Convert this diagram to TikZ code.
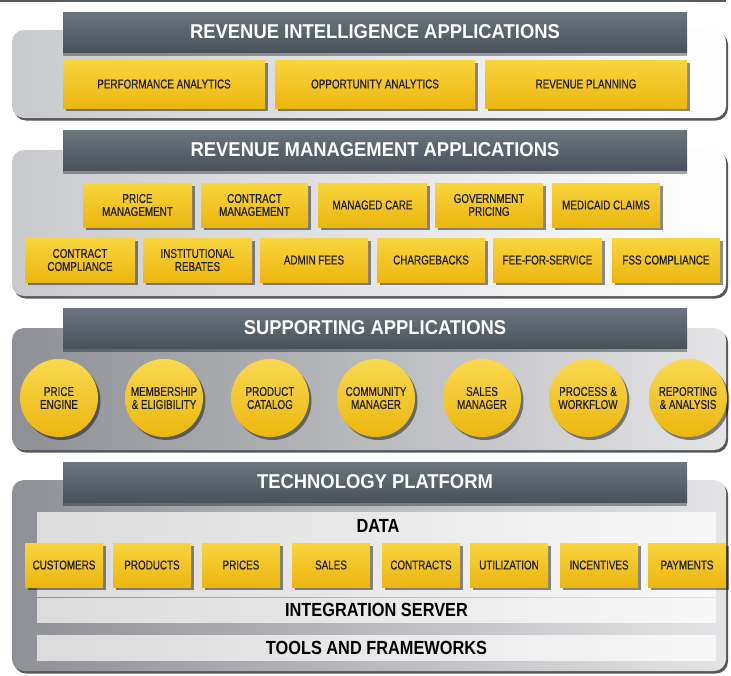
\documentclass[tikz,border=0pt]{standalone}
\usepackage{fontspec}
\usetikzlibrary{shadows}
\newfontfamily\cond[FakeStretch=0.77, FakeBold=0.35]{Liberation Sans}
\newfontfamily\condb[FakeStretch=0.86]{Liberation Sans}
\newfontfamily\condh[FakeStretch=0.92]{Liberation Sans}
\definecolor{yTop}{HTML}{F9D53E}
\definecolor{yBot}{HTML}{ECB60E}
\definecolor{hTop}{HTML}{6C747E}
\definecolor{hBot}{HTML}{49515B}
\definecolor{pLightL}{HTML}{C9CACE}
\definecolor{pDarkL}{HTML}{8E9095}
\definecolor{pDarkR}{HTML}{E4E4E6}
\definecolor{edge}{HTML}{55575B}
\definecolor{txt}{HTML}{1E1E1E}
\tikzset{
  ybox/.style={draw=none, top color=yTop, bottom color=yBot, inner sep=0pt,
    align=center, text=txt, font=\cond\fontsize{12.8}{13}\selectfont,
    drop shadow={shadow xshift=2.5pt, shadow yshift=-3pt, opacity=0.45, fill=black}},
  ycirc/.style={circle, draw=none, top color=yTop!90!white, bottom color=yBot, inner sep=0pt,
    minimum size=78pt, align=center, text=txt, font=\cond\fontsize{12.8}{13}\selectfont,
    drop shadow={shadow xshift=2.5pt, shadow yshift=-3pt, opacity=0.45, fill=black}},
  hdr/.style={draw=none, top color=hTop, bottom color=hBot, inner sep=0pt,
    text=white, font=\condh\bfseries\fontsize{20}{22}\selectfont,
    drop shadow={shadow xshift=0pt, shadow yshift=-4pt, opacity=0.35, fill=black}},
  lightpanel/.style={rounded corners=12pt, left color=pLightL, right color=white,
    draw=none, drop shadow={shadow xshift=2pt, shadow yshift=-2.5pt, opacity=1, fill=edge}},
  darkpanel/.style={rounded corners=12pt, left color=pDarkL, right color=pDarkR,
    draw=none, drop shadow={shadow xshift=2pt, shadow yshift=-2.5pt, opacity=1, fill=edge}},
  strip/.style={draw=none, left color=black!14, right color=black!3, inner sep=0pt,
    text=black, font=\condb\bfseries\fontsize{19}{21}\selectfont},
}
% \bx{style}{name}{x1}{y1}{x2}{y2}{text}
\newcommand\bx[7]{%
  \pgfmathsetmacro\bxcx{(#3+#5)/2}\pgfmathsetmacro\bxcy{(#4+#6)/2}%
  \pgfmathsetmacro\bxw{#5-#3}\pgfmathsetmacro\bxh{#6-#4}%
  \node[#1, minimum width=\bxw pt, minimum height=\bxh pt] (#2) at (\bxcx,\bxcy) {#7};}
\newcommand\yb[6]{\bx{ybox}{#1}{#2}{#3}{#4}{#5}{#6}}
\begin{document}
\begin{tikzpicture}[x=1pt,y=-1pt]
\useasboundingbox (0,0) rectangle (731,675);
\fill[white] (0,0) rectangle (731,675);
\draw[edge, line width=2pt] (0,1) -- (726,1);

% ---------- Band 1
\path[lightpanel] (12,30) rectangle (726,118);
\bx{hdr}{h1}{63}{12}{687}{52}{REVENUE INTELLIGENCE APPLICATIONS}
\yb{pa}{63}{60}{265}{108}{PERFORMANCE ANALYTICS}
\yb{oa}{275}{60}{475}{108}{OPPORTUNITY ANALYTICS}
\yb{rp}{485}{60}{687}{108}{REVENUE PLANNING}

% ---------- Band 2
\path[lightpanel] (12,150) rectangle (726,296);
\bx{hdr}{h2}{63}{130}{687}{170}{REVENUE MANAGEMENT APPLICATIONS}
\yb{pm}{83}{183}{192}{227}{PRICE\\MANAGEMENT}
\yb{cm}{201}{183}{308}{227}{CONTRACT\\MANAGEMENT}
\yb{mc}{318}{183}{427}{227}{MANAGED CARE}
\yb{gp}{435}{183}{543}{227}{GOVERNMENT\\PRICING}
\yb{md}{552}{183}{660}{227}{MEDICAID CLAIMS}
\yb{cc}{25}{238}{135}{282}{CONTRACT\\COMPLIANCE}
\yb{ir}{143}{238}{252}{282}{INSTITUTIONAL\\REBATES}
\yb{af}{260}{238}{368}{282}{ADMIN FEES}
\yb{cb}{377}{238}{485}{282}{CHARGEBACKS}
\yb{ff}{493}{238}{602}{282}{FEE-FOR-SERVICE}
\yb{fs}{612}{238}{720}{282}{FSS COMPLIANCE}

% ---------- Band 3
\path[darkpanel] (12,328) rectangle (726,450);
\bx{hdr}{h3}{63}{308}{687}{348}{SUPPORTING APPLICATIONS}
\node[ycirc] (c1) at (59,398) {PRICE\\ENGINE};
\node[ycirc] (c2) at (164,398) {MEMBERSHIP\\\&~ELIGIBILITY};
\node[ycirc] (c3) at (270,398) {PRODUCT\\CATALOG};
\node[ycirc] (c4) at (376,398) {COMMUNITY\\MANAGER};
\node[ycirc] (c5) at (482,398) {SALES\\MANAGER};
\node[ycirc] (c6) at (588,398) {PROCESS \&\\WORKFLOW};
\node[ycirc] (c7) at (688,398) {REPORTING\\\&~ANALYSIS};

% ---------- Band 4
\path[darkpanel] (12,480) rectangle (726,671);
\bx{strip}{data}{37}{512}{716}{596}{}
\node[font=\condb\bfseries\fontsize{19}{21}\selectfont] (datalbl) at (378,526) {DATA};
\bx{strip}{integ}{37}{598}{716}{622}{INTEGRATION SERVER}
\bx{strip}{tools}{37}{635}{716}{660}{TOOLS AND FRAMEWORKS}
\bx{hdr}{h4}{63}{462}{687}{502}{TECHNOLOGY PLATFORM}
\yb{d1}{25}{543}{103}{587}{CUSTOMERS}
\yb{d2}{113}{543}{191}{587}{PRODUCTS}
\yb{d3}{202}{543}{280}{587}{PRICES}
\yb{d4}{292}{543}{370}{587}{SALES}
\yb{d5}{382}{543}{460}{587}{CONTRACTS}
\yb{d6}{470}{543}{548}{587}{UTILIZATION}
\yb{d7}{560}{543}{638}{587}{INCENTIVES}
\yb{d8}{648}{543}{726}{587}{PAYMENTS}
\end{tikzpicture}
\end{document}
